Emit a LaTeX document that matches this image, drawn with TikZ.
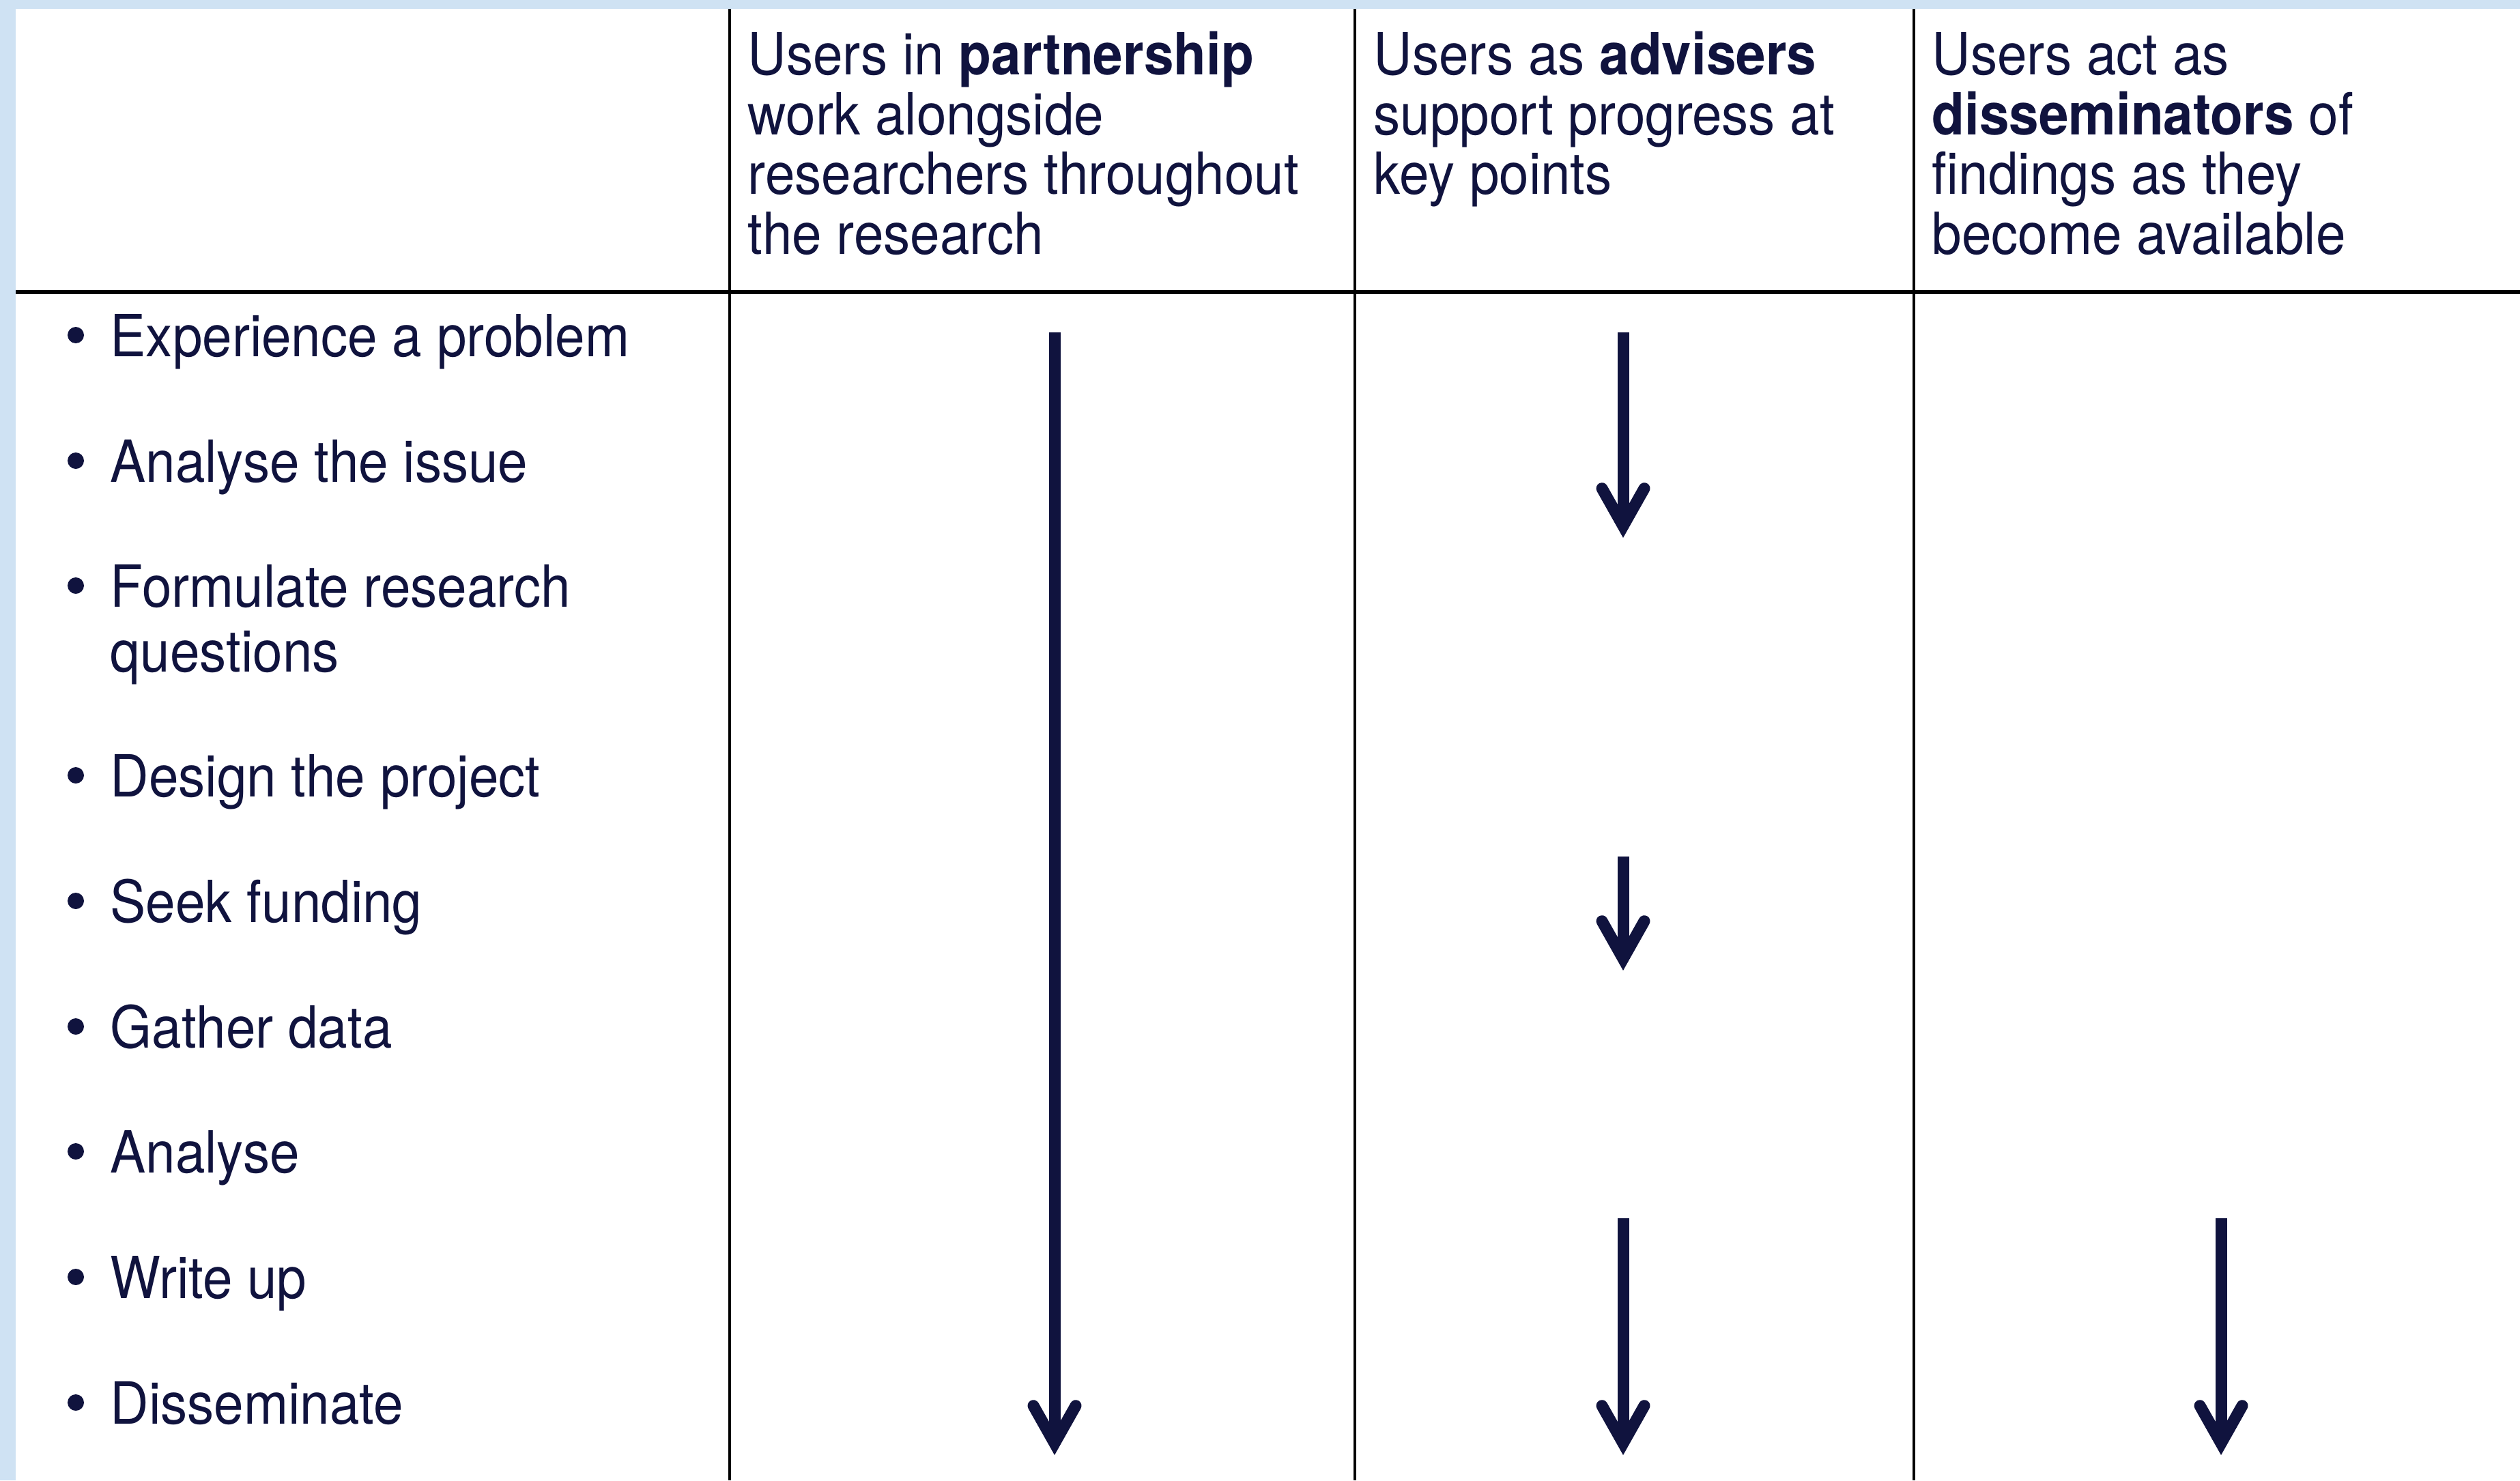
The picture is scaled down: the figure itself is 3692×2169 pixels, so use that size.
\documentclass[tikz,border=0pt]{standalone}
\usepackage{fontspec}
\setmainfont[FakeStretch=0.92]{TeX Gyre Heros}
\usetikzlibrary{arrows.meta}

\definecolor{navy}{RGB}{16,19,62}
\definecolor{paleblue}{RGB}{207,226,243}

\tikzset{
  cell/.style={anchor=base west, inner sep=0pt, text=navy,
    font=\fontsize{24.2pt}{26pt}\selectfont},
  rule/.style={line width=0.35mm, black},
  flow/.style={navy, line width=1.7mm,
    -{Straight Barb[length=5.5mm,width=6.2mm,line cap=round,line join=miter]}},
}

\begin{document}
\begin{tikzpicture}[x=0.1mm, y=-0.1mm]
\useasboundingbox (0,0) rectangle (3692,2169);
% pale blue strips along the top and the left edge
\fill[paleblue] (0,0) rectangle (3692,13);
\fill[paleblue] (0,0) rectangle (23,2169);

% table rules
\draw[rule] (1069,13) -- (1069,2169);
\draw[rule] (1985,13) -- (1985,2169);
\draw[rule] (2804,13) -- (2804,2169);
\draw[rule, line width=0.55mm] (23,428) -- (3692,428);

% column heads
\node[cell] (part1) at (1095,110) {Users in \textbf{partnership}};
\node[cell] (part2) at (1095,197) {work alongside};
\node[cell] (part3) at (1095,285) {researchers throughout};
\node[cell] (part4) at (1095,372) {the research};

\node[cell] (adv1) at (2012,110) {Users as \textbf{advisers}};
\node[cell] (adv2) at (2012,197) {support progress at};
\node[cell] (adv3) at (2012,285) {key points};

\node[cell] (diss1) at (2830,110) {Users act as};
\node[cell] (diss2) at (2830,197) {\textbf{disseminators} of};
\node[cell] (diss3) at (2830,285) {findings as they};
\node[cell] (diss4) at (2830,372) {become available};

% research stages, one bullet each
\foreach \name/\y/\txt in {exp/522/Experience a problem, iss/706/Analyse the issue,
    frm/889/Formulate research, dsg/1167/Design the project, fnd/1351/Seek funding,
    gth/1535/Gather data, anl/1718/Analyse, wrt/1902/Write up, dis/2086/Disseminate}
{
  \fill[navy] (111,\y-31) circle (12);
  \node[cell] (\name) at (161,\y) {\txt};
}
\node[cell] (frm2) at (161,984) {questions};

% where the arrows start and stop
\coordinate (partTop) at (1545,487);
\coordinate (partEnd) at (1545,2132);
\coordinate (advTopA) at (2378,487);
\coordinate (advEndA) at (2378,788);
\coordinate (advTopB) at (2378,1255);
\coordinate (advEndB) at (2378,1422);
\coordinate (advTopC) at (2378,1785);
\coordinate (advEndC) at (2378,2132);
\coordinate (dissTop) at (3254,1785);
\coordinate (dissEnd) at (3254,2132);

\draw[flow] (partTop) -- (partEnd);
\draw[flow] (advTopA) -- (advEndA);
\draw[flow] (advTopB) -- (advEndB);
\draw[flow] (advTopC) -- (advEndC);
\draw[flow] (dissTop) -- (dissEnd);
\end{tikzpicture}
\end{document}
